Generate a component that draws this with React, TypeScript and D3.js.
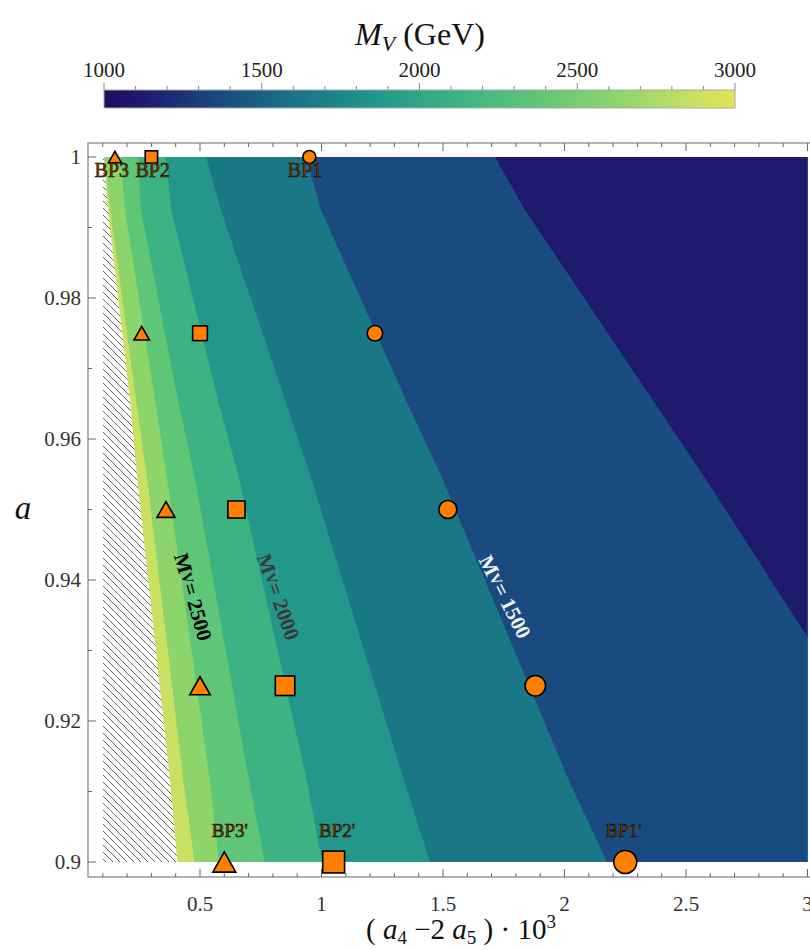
import React from 'react';
import * as d3 from 'd3';

const W = 810;
const H = 950;

// Rows of a at which the contour positions are tabulated (top to bottom)
const rowA = [1.0, 0.9925, 0.9655, 0.9545, 0.9115, 0.9];

// Edge of the excluded (hatched) region, x = (a4 - 2 a5)·10^3
const excludedEdge = [0.105, 0.121, 0.212, 0.241, 0.377, 0.407];

// x positions of the M_V contours at each row
const contour2750 = [0.105, 0.13, 0.237, 0.282, 0.432, 0.477];
const contour2500 = [0.175, 0.191, 0.315, 0.364, 0.541, 0.578];
const contour2250 = [0.245, 0.257, 0.409, 0.479, 0.702, 0.767];
const contour2000 = [0.36, 0.381, 0.574, 0.66, 0.94, 1.002];
const contour1750 = [0.525, 0.586, 0.85, 0.957, 1.34, 1.447];
const contour1500 = [0.936, 0.998, 1.348, 1.496, 2.019, 2.175];
const contour1250 = [1.714, 1.837, 2.364, 2.578, 3.381, 3.599];

const contourLevels = [2750, 2500, 2250, 2000, 1750, 1500, 1250];
const contourXs = [contour2750, contour2500, contour2250, contour2000, contour1750, contour1500, contour1250];

// Fill of the band above the highest level, then of the band just below each level
const topBandColor = '#c9e062';
const bandBelowColors = ['#8dd46b', '#5fc677', '#3db383', '#23988a', '#1a7786', '#1a4b80', '#1e1b6e'];

// Colour bar
const barValues = [1000, 1125, 1375, 1625, 1875, 2125, 2375, 2625, 2875, 3000];
const barColors = ['#220b5f', '#1d1b6e', '#1a4b80', '#1a7786', '#23988a', '#3db383', '#5fc677', '#8dd46b', '#c9e062', '#e4e353'];
const barTicks = [1000, 1500, 2000, 2500, 3000];

// Benchmark points
const bpA = [1.0, 0.975, 0.95, 0.925, 0.9];
const bp3X = [0.15, 0.26, 0.36, 0.5, 0.6];
const bp2X = [0.3, 0.5, 0.65, 0.85, 1.05];
const bp1X = [0.95, 1.22, 1.52, 1.88, 2.25];

const bpLabelText = ['BP3', 'BP2', 'BP1', "BP3'", "BP2'", "BP1'"];
const bpLabelX = [0.137, 0.305, 0.932, 0.623, 1.064, 2.243];
const bpLabelA = [0.9971, 0.9971, 0.9971, 0.9035, 0.9035, 0.9035];

// Contour labels
const cLabelValue = ['2500', '2000', '1500'];
const cLabelX = [0.471, 0.821, 1.755];
const cLabelA = [0.9376, 0.9376, 0.9376];
const cLabelAngle = [74, 70.5, 63];
const cLabelFill = ['#000000', '#3a3a3a', '#f2f2f2'];

// Axis ticks
const xTickValues = [0.5, 1, 1.5, 2, 2.5, 3];
const xTickLabels = ['0.5', '1', '1.5', '2', '2.5', '3'];
const yTickValues = [0.9, 0.92, 0.94, 0.96, 0.98, 1];
const yTickLabels = ['0.9', '0.92', '0.94', '0.96', '0.98', '1'];

const serif = "'Liberation Serif', 'Times New Roman', serif";

export default function App() {
  const x = d3.scaleLinear().domain([0.1, 3]).range([102.8, 807.5]);
  const y = d3.scaleLinear().domain([0.9, 1]).range([862, 157]);
  const size = d3.scaleLinear().domain([1, 0.9]).range([13, 23]);
  const cb = d3.scaleLinear().domain([1000, 3000]).range([104, 735]);

  const frame = { l: 88, t: 143, b: 877, r: 822 };

  const line = d3
    .line<[number, number]>()
    .x((d) => x(d[0]))
    .y((d) => y(d[1]));

  const rightOf = (xs: number[]) =>
    line([...xs.map((v, i) => [v, rowA[i]] as [number, number]), [4, 0.9], [4, 1.0]]) + 'Z';

  const hatchPath =
    line([[0.1, 1.0], ...excludedEdge.map((v, i) => [v, rowA[i]] as [number, number]), [0.1, 0.9]]) + 'Z';

  const xMinor = d3.range(1, 31).map((i) => i / 10);
  const yMinor = d3.range(0, 11).map((i) => 0.9 + i / 100);
  const cbMinor = d3.range(1000, 3001, 100);

  const mk = { fill: '#ff8000', stroke: '#000', strokeWidth: 1.6 };

  const tri = (cx: number, cy: number, s: number) => {
    const w = s * 1.0;
    const h = s * 0.88;
    return `M${cx},${cy - h / 2}L${cx + w / 2},${cy + h / 2}L${cx - w / 2},${cy + h / 2}Z`;
  };

  return (
    <div style={{ position: 'absolute', left: 0, top: 0 }}>
      <svg width={W} height={H} style={{ display: 'block', background: '#fff' }} fontFamily={serif}>
        <defs>
          <linearGradient id="mvGrad" x1="0" x2="1" y1="0" y2="0">
            {barValues.map((v, i) => (
              <stop key={i} offset={(v - 1000) / 2000} stopColor={barColors[i]} />
            ))}
          </linearGradient>
          <clipPath id="dataClip">
            <rect x={x(0.1)} y={y(1)} width={x(3) - x(0.1)} height={y(0.9) - y(1)} />
          </clipPath>
          <pattern id="hatch" patternUnits="userSpaceOnUse" width={7} height={7}>
            <path d="M0,0L7,7M-1,6L1,8M6,-1L8,1" stroke="#555" strokeWidth={0.9} />
          </pattern>
        </defs>

        {/* colour bar */}
        <text x={420} y={45} textAnchor="middle" fontSize={32} fill="#111">
          <tspan fontStyle="italic">M</tspan>
          <tspan fontStyle="italic" fontSize={22} dy={6}>V</tspan>
          <tspan dy={-6}> (GeV)</tspan>
        </text>
        {barTicks.map((v) => (
          <text key={v} x={cb(v)} y={77} textAnchor="middle" fontSize={21} fill="#222">
            {v}
          </text>
        ))}
        <rect x={cb(1000)} y={90} width={cb(3000) - cb(1000)} height={18} fill="url(#mvGrad)" stroke="#aaa" strokeWidth={1} />
        {cbMinor.map((v) => (
          <line
            key={v}
            x1={cb(v)}
            x2={cb(v)}
            y1={v % 500 === 0 ? 83 : 86}
            y2={90}
            stroke="#888"
            strokeWidth={1}
          />
        ))}

        {/* contour bands */}
        <g clipPath="url(#dataClip)">
          <rect x={x(0.1)} y={y(1)} width={x(3) - x(0.1)} height={y(0.9) - y(1)} fill={topBandColor} />
          {contourXs.map((xs, i) => (
            <path key={contourLevels[i]} d={rightOf(xs)} fill={bandBelowColors[i]} />
          ))}
          <path d={hatchPath} fill="#fff" />
          <path d={hatchPath} fill="url(#hatch)" />
        </g>

        {/* contour labels */}
        {cLabelValue.map((v, i) => (
          <text
            key={v}
            transform={`translate(${x(cLabelX[i])},${y(cLabelA[i])}) rotate(${cLabelAngle[i]})`}
            textAnchor="middle"
            dominantBaseline="central"
            fontSize={21}
            fontWeight="bold"
            fill={cLabelFill[i]}
          >
            <tspan>M</tspan>
            <tspan fontSize={15}>V</tspan>
            <tspan>= {v}</tspan>
          </text>
        ))}

        {/* frame */}
        <rect x={frame.l} y={frame.t} width={frame.r - frame.l} height={frame.b - frame.t} fill="none" stroke="#808080" strokeWidth={1.2} />
        {xMinor.map((v, i) => {
          const major = xTickValues.some((t) => Math.abs(t - v) < 1e-9);
          const len = major ? 8 : 4;
          return (
            <g key={i} stroke="#666" strokeWidth={1}>
              <line x1={x(v)} x2={x(v)} y1={frame.b} y2={frame.b - len} />
              <line x1={x(v)} x2={x(v)} y1={frame.t} y2={frame.t + len} />
            </g>
          );
        })}
        {yMinor.map((v, i) => {
          const major = yTickValues.some((t) => Math.abs(t - v) < 1e-9);
          const len = major ? 8 : 4;
          return <line key={i} x1={frame.l} x2={frame.l + len} y1={y(v)} y2={y(v)} stroke="#666" strokeWidth={1} />;
        })}
        {xTickValues.map((v, i) => (
          <text key={v} x={x(v)} y={911} textAnchor="middle" fontSize={21} fill="#333">
            {xTickLabels[i]}
          </text>
        ))}
        {yTickValues.map((v, i) => (
          <text key={v} x={81} y={y(v)} textAnchor="end" dominantBaseline="central" fontSize={21} fill="#333">
            {yTickLabels[i]}
          </text>
        ))}

        {/* axis titles */}
        <text x={23} y={519} textAnchor="middle" fontSize={33} fontStyle="italic" fill="#111">
          a
        </text>
        <text x={461} y={939} textAnchor="middle" fontSize={29} fill="#111">
          <tspan>( </tspan>
          <tspan fontStyle="italic">a</tspan>
          <tspan fontSize={19} dy={5}>4</tspan>
          <tspan dy={-5}> −2 </tspan>
          <tspan fontStyle="italic">a</tspan>
          <tspan fontSize={19} dy={5}>5</tspan>
          <tspan dy={-5}> ) · 10</tspan>
          <tspan fontSize={19} dy={-11}>3</tspan>
        </text>

        {/* benchmark points */}
        {bp3X.map((v, i) => (
          <path key={`t${i}`} d={tri(x(v), y(bpA[i]), size(bpA[i]))} {...mk} />
        ))}
        {bp2X.map((v, i) => {
          const s = size(bpA[i]) * 0.95;
          return <rect key={`s${i}`} x={x(v) - s / 2} y={y(bpA[i]) - s / 2} width={s} height={s} {...mk} />;
        })}
        {bp1X.map((v, i) => (
          <circle key={`c${i}`} cx={x(v)} cy={y(bpA[i])} r={size(bpA[i]) / 2} {...mk} />
        ))}

        {bpLabelText.map((t, i) => (
          <text
            key={t}
            x={x(bpLabelX[i])}
            y={y(bpLabelA[i])}
            textAnchor="middle"
            fontSize={i < 3 ? 20 : 19}
            fill="#7a3a00"
            stroke="#1a0a00"
            strokeWidth={0.6}
          >
            {t}
          </text>
        ))}
      </svg>
    </div>
  );
}
